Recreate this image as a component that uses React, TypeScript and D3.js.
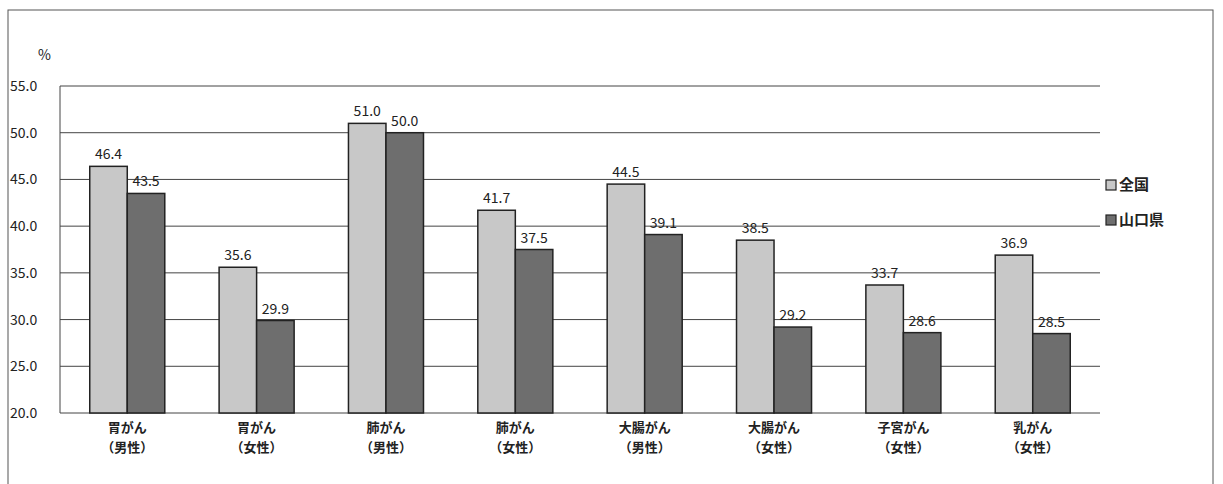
import * as d3 from 'd3';

const categories = ['胃がん\n（男性）', '胃がん\n（女性）', '肺がん\n（男性）', '肺がん\n（女性）', '大腸がん\n（男性）', '大腸がん\n（女性）', '子宮がん\n（女性）', '乳がん\n（女性）'];
const national = [46.4, 35.6, 51.0, 41.7, 44.5, 38.5, 33.7, 36.9];
const yamaguchi = [43.5, 29.9, 50.0, 37.5, 39.1, 29.2, 28.6, 28.5];
const seriesNames = ['全国', '山口県'];
const yTicks = [20, 25, 30, 35, 40, 45, 50, 55];

export default function App() {
  const W = 1223, H = 484;
  const left = 60, right = 1100, top = 86, bottom = 413;
  const x = d3.scaleBand<string>().domain(categories).range([left, right]).paddingInner(0.42).paddingOuter(0.23);
  const y = d3.scaleLinear().domain([20, 55]).range([bottom, top]);
  const bw = x.bandwidth() / 2;
  const font = '"Noto Sans CJK JP", "DejaVu Sans", sans-serif';
  const colors = ['#c8c8c8', '#6e6e6e'];
  return (
    <svg width={W} height={H} style={{ position: 'absolute', left: 0, top: 0, background: '#fff' }} fontFamily={font}>
      <rect x={8} y={10} width={1205} height={480} fill="none" stroke="#555" strokeWidth={1} />
      <text x={38} y={60} fontSize={14} fill="#222">%</text>
      {yTicks.map(t => (
        <g key={t}>
          <line x1={left} x2={right} y1={y(t)} y2={y(t)} stroke="#444" strokeWidth={1} />
          <text x={10} y={y(t) + 5} fontSize={14} fill="#222">{t.toFixed(1)}</text>
        </g>
      ))}
      <line x1={left} x2={left} y1={top} y2={bottom} stroke="#444" />
      {categories.map((c, i) => {
        const x0 = x(c)!;
        const vals = [national[i], yamaguchi[i]];
        return (
          <g key={c}>
            {vals.map((v, j) => (
              <g key={j}>
                <rect x={x0 + j * bw} y={y(v)} width={bw} height={bottom - y(v)} fill={colors[j]} stroke="#222" strokeWidth={1.5} />
                <text x={x0 + j * bw + bw / 2} y={y(v) - 7} fontSize={14} textAnchor="middle" fill="#222">{v.toFixed(1)}</text>
              </g>
            ))}
            {c.split('\n').map((s, k) => (
              <text key={k} x={x0 + bw} y={432 + k * 20} fontSize={13} fontWeight="bold" textAnchor="middle" fill="#222">{s}</text>
            ))}
          </g>
        );
      })}
      {seriesNames.map((n, j) => (
        <g key={n} transform={`translate(1106,${190 + j * 35})`}>
          <rect x={0} y={-10} width={10} height={10} fill={colors[j]} stroke="#222" strokeWidth={1.2} />
          <text x={13} y={0} fontSize={15} fontWeight="bold" fill="#222">{n}</text>
        </g>
      ))}
    </svg>
  );
}
